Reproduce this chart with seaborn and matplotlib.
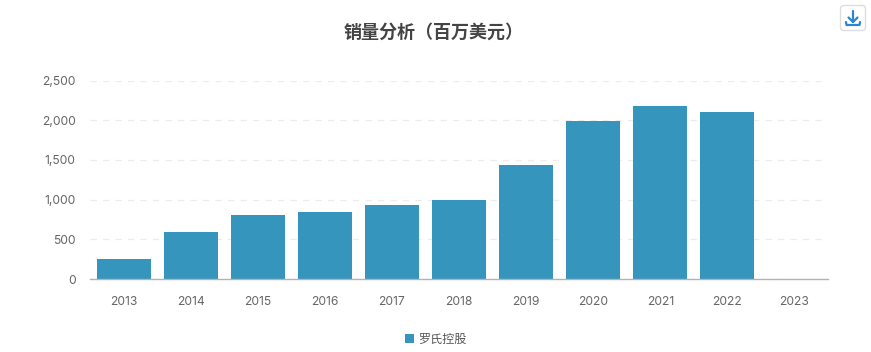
import matplotlib
matplotlib.use("Agg")
import matplotlib.pyplot as plt
from matplotlib.patches import FancyBboxPatch
from matplotlib.lines import Line2D
import seaborn as sns
import pandas as pd

years = ["2013","2014","2015","2016","2017","2018","2019","2020","2021","2022","2023"]
sales = [255, 590, 805, 845, 935, 1000, 1435, 1985, 2175, 2105, 0]
series_name = "罗氏控股"
title = "销量分析（百万美元）"
yticks = [0, 500, 1000, 1500, 2000, 2500]

sns.set_theme(style="white")
plt.rcParams['font.family'] = ['Noto Sans CJK SC', 'DejaVu Sans']

W, H = 871, 352
fig = plt.figure(figsize=(W/100, H/100), dpi=100, facecolor="white")
ax = fig.add_axes([90/W, 1-279/H, 738/W, 198.5/H])

df = pd.DataFrame({"year": years, "sales": sales})
sns.barplot(data=df, x="year", y="sales", ax=ax, color="#3595bd", saturation=1,
            width=0.805, linewidth=0, label=series_name, legend=False)
ax.set_xlim(-0.5, 10.5)
ax.set_ylim(0, 2500)
ax.set_yticks(yticks)
ax.set_yticklabels([f"{v:,}" for v in yticks])
ax.set_xlabel(""); ax.set_ylabel("")
ax.yaxis.grid(True, color="#ececec", linestyle=(0, (5, 5)), linewidth=0.9)
ax.set_axisbelow(True)
for s in ["top", "left", "right"]:
    ax.spines[s].set_visible(False)
ax.spines["bottom"].set_color("#b3b3b3")
ax.spines["bottom"].set_linewidth(1)
ax.tick_params(axis="both", length=0, labelcolor="#666666")
ax.tick_params(axis="x", pad=12)
ax.tick_params(axis="y", pad=10.5)
for lab in ax.get_yticklabels() + ax.get_xticklabels():
    lab.set_fontfamily(["Inter", "DejaVu Sans"])
    lab.set_fontsize(8.7)

fig.text(434/W, 1-32/H, title, ha="center", va="center", fontsize=13,
         fontweight="bold", color="#444444")

leg = ax.legend(loc="center", bbox_to_anchor=(435.5/W, 1-339.5/H), bbox_transform=fig.transFigure,
                frameon=False, fontsize=8.7, handlelength=0.8, handleheight=0.8, handletextpad=0.3,
                labelcolor="#555555")

# download button
box = FancyBboxPatch((840.5/W, 1-30.5/H), 25/W, 25/H, transform=fig.transFigure,
                     boxstyle="round,pad=0,rounding_size=0.004", mutation_aspect=W/H,
                     fc="white", ec="#dddddd", lw=1)
fig.add_artist(box)
blue = "#2b86d0"
def seg(xs, ys):
    fig.add_artist(Line2D([x/W for x in xs], [1-y/H for y in ys], color=blue, lw=1.6,
                          transform=fig.transFigure, solid_capstyle="round", solid_joinstyle="round"))
seg([853, 853], [11, 22])
seg([848.5, 853, 857.5], [17.5, 22, 17.5])
seg([846, 846.5, 859.5, 860], [22, 25, 25, 22])

fig.savefig("out.png", dpi=100)
